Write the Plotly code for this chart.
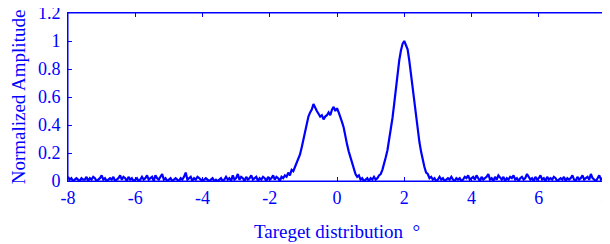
import numpy as np
import plotly.graph_objects as go

# Amplitude samples, step 0.05 from -8 to 8
noise_left = [  # -8.00 .. -1.55
    0.03, 0.01, 0.02, 0.00, 0.01, 0.02, 0.01, 0.00, 0.02, 0.01,
    0.01, 0.03, 0.00, 0.02, 0.01, 0.03, 0.02, 0.00, 0.01, 0.02,
    0.04, 0.01, 0.02, 0.00, 0.01, 0.02, 0.01, 0.03, 0.00, 0.01,
    0.02, 0.04, 0.01, 0.03, 0.02, 0.00, 0.03, 0.01, 0.02, 0.00,
    0.01, 0.02, 0.00, 0.01, 0.03, 0.01, 0.02, 0.04, 0.01, 0.02,
    0.03, 0.00, 0.04, 0.02, 0.01, 0.03, 0.05, 0.01, 0.02, 0.00,
    0.01, 0.02, 0.00, 0.01, 0.02, 0.01, 0.00, 0.02, 0.01, 0.03,
    0.06, 0.01, 0.02, 0.03, 0.00, 0.02, 0.01, 0.03, 0.02, 0.01,
    0.00, 0.01, 0.02, 0.01, 0.00, 0.01, 0.02, 0.00, 0.01, 0.00,
    0.01, 0.02, 0.00, 0.01, 0.03, 0.01, 0.02, 0.00, 0.04, 0.01,
    0.02, 0.05, 0.01, 0.03, 0.02, 0.00, 0.03, 0.01, 0.02, 0.04,
    0.01, 0.02, 0.03, 0.00, 0.02, 0.01, 0.03, 0.02, 0.00, 0.03,
    0.01, 0.02, 0.04, 0.01, 0.03, 0.02, 0.00, 0.03, 0.02, 0.04,
]
targets = [  # -1.50 .. 2.85
    0.03, 0.06, 0.04, 0.08, 0.07, 0.10, 0.13, 0.16, 0.19, 0.24,
    0.30, 0.36, 0.41, 0.46, 0.49, 0.51, 0.55, 0.52, 0.50, 0.48,
    0.46, 0.47, 0.44, 0.46, 0.47, 0.49, 0.47, 0.51, 0.53, 0.50,
    0.52, 0.49, 0.46, 0.42, 0.38, 0.31, 0.26, 0.21, 0.17, 0.12,
    0.08, 0.05, 0.03, 0.04, 0.01, 0.02, 0.00, 0.01, 0.02, 0.00,
    0.02, 0.01, 0.03, 0.01, 0.02, 0.04, 0.05, 0.08, 0.12, 0.17,
    0.22, 0.29, 0.36, 0.45, 0.55, 0.66, 0.77, 0.86, 0.93, 0.98,
    1.00, 0.97, 0.94, 0.86, 0.76, 0.64, 0.54, 0.45, 0.37, 0.28,
    0.21, 0.15, 0.10, 0.06, 0.05, 0.02, 0.03, 0.01,
]
noise_right = [  # 2.90 .. 8.00
    0.02, 0.00, 0.01, 0.03, 0.01, 0.02, 0.00, 0.01, 0.02, 0.01,
    0.03, 0.01, 0.00, 0.02, 0.01, 0.02, 0.00, 0.01, 0.03, 0.02,
    0.04, 0.01, 0.02, 0.03, 0.01, 0.04, 0.02, 0.00, 0.03, 0.01,
    0.02, 0.03, 0.05, 0.01, 0.02, 0.00, 0.03, 0.01, 0.04, 0.02,
    0.01, 0.03, 0.00, 0.02, 0.01, 0.03, 0.02, 0.04, 0.01, 0.02,
    0.00, 0.02, 0.03, 0.01, 0.02, 0.05, 0.03, 0.01, 0.02, 0.00,
    0.03, 0.01, 0.02, 0.04, 0.01, 0.02, 0.00, 0.03, 0.01, 0.02,
    0.01, 0.03, 0.02, 0.00, 0.01, 0.02, 0.01, 0.03, 0.00, 0.02,
    0.01, 0.02, 0.04, 0.01, 0.00, 0.03, 0.01, 0.02, 0.04, 0.01,
    0.02, 0.03, 0.01, 0.05, 0.02, 0.01, 0.00, 0.02, 0.04, 0.01,
    0.02, 0.05, 0.03,
]
amplitude = noise_left + targets + noise_right
angle = np.round(-8 + 0.05 * np.arange(len(amplitude)), 2)

x_ticks = [-8, -6, -4, -2, 0, 2, 4, 6, 8]
y_ticks = [0, 0.2, 0.4, 0.6, 0.8, 1, 1.2]
y_tick_labels = ["0", "0.2", "0.4", "0.6", "0.8", "1", "1.2"]

BLUE = "#0000ff"
FAMILY = "Liberation Serif, Times New Roman, serif"
tick_font = dict(family=FAMILY, size=18, color=BLUE)
title_font = dict(family=FAMILY, size=19, color=BLUE)

fig = go.Figure(go.Scatter(x=angle, y=amplitude, mode="lines",
                           line=dict(color=BLUE, width=2.2), showlegend=False))

# page body has an 8px default margin, so the figure is sized to fit inside
fig.update_layout(
    width=602, height=236,
    margin=dict(l=60, r=4, t=5, b=63),
    paper_bgcolor="white", plot_bgcolor="white",
    font=tick_font,
    shapes=[dict(type="rect", xref="paper", yref="paper", x0=0, x1=1, y0=0, y1=1,
                 line=dict(color=BLUE, width=1), fillcolor="rgba(0,0,0,0)",
                 layer="above")],
)
fig.update_xaxes(
    range=[-8, 8], tickvals=x_ticks, ticktext=[str(v) for v in x_ticks],
    tickfont=tick_font,
    showgrid=False, zeroline=False, showline=True, linecolor=BLUE, linewidth=1,
    mirror="ticks", ticks="inside", ticklen=4, tickcolor=BLUE,
    automargin=False, ticklabeloverflow="allow",
    title=dict(text="Tareget distribution\u2002°", font=title_font, standoff=18),
)
fig.update_yaxes(
    range=[0, 1.2], tickvals=y_ticks, ticktext=y_tick_labels,
    tickfont=tick_font, ticklabelstandoff=3,
    showgrid=False, zeroline=False, showline=True, linecolor=BLUE, linewidth=1,
    mirror="ticks", ticks="inside", ticklen=4, tickcolor=BLUE,
    automargin=False, ticklabeloverflow="allow",
    title=dict(text="Normalized Amplitude", font=title_font, standoff=10),
)

fig.write_html("out.html")
